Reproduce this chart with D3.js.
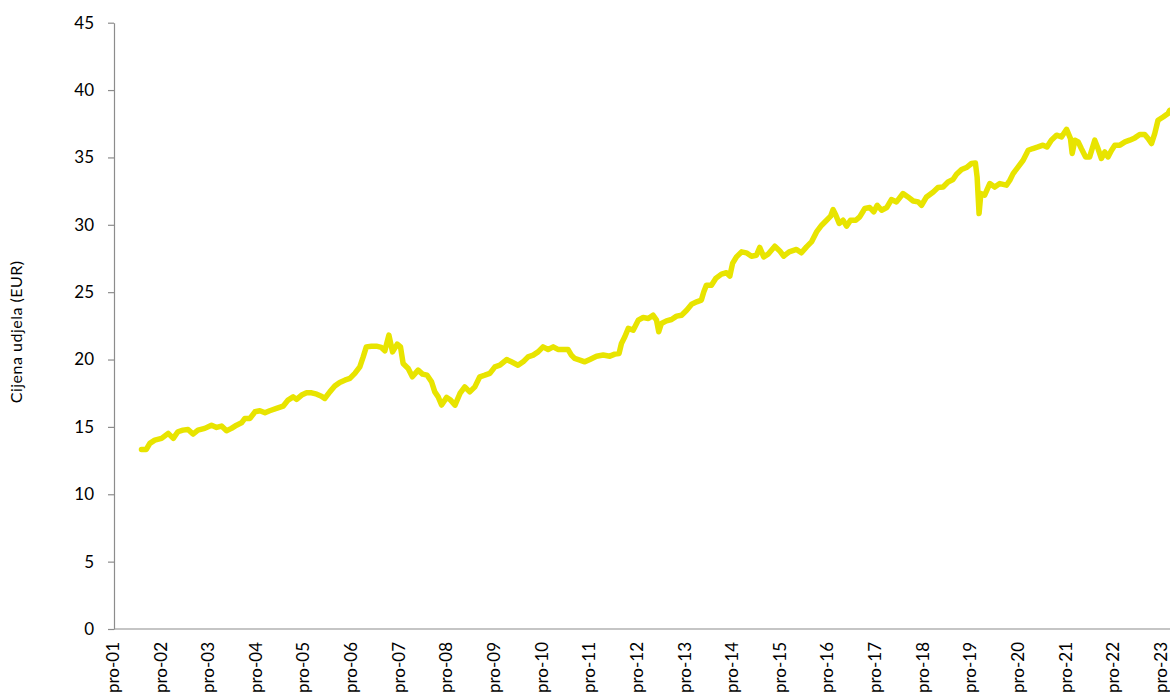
<!DOCTYPE html>
<html>
<head>
<meta charset="utf-8">
<script src="https://cdn.jsdelivr.net/npm/d3@7"></script>
<style>
  html, body { margin: 0; padding: 0; background: #fff; }
  svg { display: block; }
  text { font-family: Lato, "Liberation Sans", sans-serif; fill: #000; }
</style>
</head>
<body>
<svg id="chart" width="1170" height="696"></svg>
<script>
// ---- data ----
const yAxisTitle = "Cijena udjela (EUR)";
const yTicks = [0, 5, 10, 15, 20, 25, 30, 35, 40, 45];
const tickYears = d3.range(2001, 2024); // "pro-01" .. "pro-23" (prosinac = December)
const tickLabelPrefix = "pro-";

const dates = [
"2002-06-22","2002-07-29","2002-08-25","2002-10-02","2002-11-23","2003-01-13","2003-02-21","2003-03-28",
"2003-05-06","2003-06-14","2003-07-22","2003-08-29","2003-10-20","2003-12-11","2004-01-19","2004-02-26",
"2004-04-04","2004-05-12","2004-06-20","2004-07-28","2004-08-23","2004-10-01","2004-11-08","2004-12-16",
"2005-01-24","2005-03-01","2005-04-22","2005-06-12","2005-07-20","2005-08-28","2005-09-23","2005-11-01",
"2005-12-09","2006-01-17","2006-02-25","2006-04-02","2006-04-27","2006-06-05","2006-07-13","2006-08-20",
"2006-09-28","2006-11-06","2006-12-14","2007-01-21","2007-02-16","2007-03-12","2007-04-20","2007-05-28",
"2007-07-05","2007-08-01","2007-09-01","2007-09-29","2007-11-04","2007-11-29","2007-12-19","2008-01-27",
"2008-02-28","2008-04-12","2008-05-16","2008-06-20","2008-07-24","2008-08-18","2008-09-13","2008-10-09",
"2008-11-17","2008-12-17","2009-01-20","2009-02-27","2009-04-05","2009-05-13","2009-06-21","2009-07-29",
"2009-09-06","2009-10-14","2009-11-22","2009-12-30","2010-02-20","2010-03-28","2010-05-18","2010-06-26",
"2010-08-03","2010-09-11","2010-10-19","2010-11-26","2011-01-04","2011-02-12","2011-03-20","2011-04-28",
"2011-06-05","2011-07-01","2011-07-26","2011-09-04","2011-10-12","2011-11-20","2012-01-10","2012-03-01",
"2012-04-21","2012-05-29","2012-07-01","2012-07-19","2012-08-14","2012-09-09","2012-10-17","2012-11-25",
"2013-01-02","2013-02-10","2013-03-18","2013-04-14","2013-05-01","2013-05-21","2013-06-29","2013-08-07",
"2013-09-15","2013-10-23","2013-12-01","2014-01-08","2014-02-16","2014-03-24","2014-04-11","2014-05-01",
"2014-06-09","2014-07-12","2014-08-25","2014-10-02","2014-10-28","2014-11-18","2014-12-18","2015-01-26",
"2015-03-04","2015-04-12","2015-05-20","2015-06-14","2015-07-15","2015-08-17","2015-10-08","2015-11-15",
"2015-12-15","2016-01-26","2016-03-22","2016-04-29","2016-06-07","2016-07-15","2016-08-23","2016-10-01",
"2016-11-08","2016-12-09","2016-12-28","2017-01-18","2017-02-13","2017-03-14","2017-04-10","2017-05-10",
"2017-06-20","2017-07-20","2017-08-28","2017-10-05","2017-11-05","2017-12-01","2018-01-04","2018-02-12",
"2018-03-20","2018-04-28","2018-06-17","2018-07-25","2018-09-03","2018-10-11","2018-11-06","2018-12-14",
"2019-02-04","2019-03-12","2019-04-20","2019-05-28","2019-07-05","2019-08-01","2019-09-09","2019-10-16",
"2019-11-24","2019-12-24","2020-01-06","2020-01-21","2020-02-04","2020-03-04","2020-04-12","2020-05-20",
"2020-06-28","2020-08-18","2020-09-13","2020-10-08","2020-11-16","2020-12-24","2021-02-01","2021-03-09",
"2021-04-17","2021-05-25","2021-06-25","2021-07-28","2021-09-06","2021-10-14","2021-11-22","2021-12-22",
"2022-01-04","2022-01-25","2022-02-19","2022-03-15","2022-04-17","2022-05-18","2022-06-26","2022-07-21",
"2022-08-16","2022-09-11","2022-10-06","2022-11-02","2022-11-27","2023-01-05","2023-02-13","2023-03-21",
"2023-04-29","2023-06-06","2023-07-14","2023-08-09","2023-09-04","2023-09-29","2023-10-24","2023-12-02",
"2024-01-09","2024-01-22"
];

const prices = [
13.33,13.33,13.78,14.02,14.15,14.52,14.15,14.64,
14.76,14.81,14.47,14.76,14.89,15.13,14.96,15.06,
14.71,14.89,15.13,15.30,15.63,15.63,16.12,16.20,
16.05,16.20,16.37,16.54,16.99,17.23,17.04,17.36,
17.53,17.53,17.43,17.28,17.11,17.60,18.03,18.30,
18.47,18.60,18.97,19.46,20.20,20.94,20.99,20.99,
20.90,20.65,21.81,20.57,21.14,20.94,19.71,19.34,
18.72,19.21,18.92,18.84,18.35,17.60,17.23,16.62,
17.19,16.99,16.62,17.48,17.97,17.60,17.97,18.72,
18.84,18.97,19.46,19.58,20.00,19.83,19.58,19.83,
20.20,20.33,20.57,20.94,20.75,20.94,20.75,20.75,
20.75,20.33,20.08,19.96,19.83,20.01,20.25,20.33,
20.25,20.40,20.45,21.19,21.69,22.31,22.18,22.92,
23.12,23.05,23.29,22.92,22.06,22.68,22.87,22.97,
23.22,23.29,23.66,24.11,24.28,24.41,25.02,25.52,
25.52,26.02,26.34,26.44,26.19,27.13,27.62,27.99,
27.92,27.67,27.74,28.32,27.62,27.82,28.41,28.06,
27.67,27.99,28.17,27.92,28.36,28.73,29.47,29.97,
30.34,30.64,31.13,30.71,30.10,30.34,29.90,30.34,
30.34,30.59,31.21,31.28,30.96,31.45,31.08,31.28,
31.87,31.70,32.32,32.07,31.77,31.70,31.45,32.07,
32.44,32.77,32.81,33.18,33.36,33.75,34.10,34.25,
34.55,34.59,33.55,30.84,32.32,32.20,33.06,32.80,
33.06,32.94,33.31,33.80,34.30,34.79,35.53,35.66,
35.78,35.91,35.78,36.28,36.65,36.52,37.09,36.40,
35.29,36.28,36.15,35.66,35.04,35.04,36.28,35.66,
34.92,35.41,35.04,35.53,35.91,35.91,36.15,36.28,
36.45,36.70,36.70,36.40,36.03,36.77,37.76,38.00,
38.26,38.50
];

// ---- chart ----
const W = 1170, H = 696;
const margin = { left: 114, right: 0, top: 22.7, bottom: 67 };
const parse = d3.timeParse("%Y-%m-%d");
const data = dates.map((d, i) => ({ date: parse(d), value: prices[i] }));

const svg = d3.select("#chart");

const x = d3.scaleTime()
  .domain([new Date(2001, 11, 1), new Date(2024, 0, 24)])
  .range([115, W]);

const y = d3.scaleLinear()
  .domain([0, 45])
  .range([H - margin.bottom, margin.top]);

// Y axis
const yAxis = svg.append("g")
  .attr("transform", `translate(${margin.left},0)`)
  .call(d3.axisLeft(y).tickValues(yTicks).tickSize(6).tickPadding(14).tickSizeOuter(0));
yAxis.select(".domain").attr("stroke", "#8c8c8c").attr("stroke-width", 1.2);
yAxis.selectAll(".tick line").attr("stroke", "#8c8c8c").attr("stroke-width", 1.2);
yAxis.selectAll(".tick text").style("font-size", "17px").attr("fill", "#000");

// X axis
const xTickDates = tickYears.map(yr => new Date(yr, 11, 1));
const xAxis = svg.append("g")
  .attr("transform", `translate(0,${y(0)})`)
  .call(d3.axisBottom(x)
    .tickValues(xTickDates)
    .tickSize(0)
    .tickSizeOuter(0)
    .tickFormat(d => tickLabelPrefix + d3.timeFormat("%y")(d)));
xAxis.select(".domain").attr("stroke", "#8c8c8c").attr("stroke-width", 1.2)
  .attr("d", `M${margin.left},0H${W}`);
xAxis.selectAll(".tick text")
  .style("font-size", "17px")
  .attr("fill", "#000")
  .attr("text-anchor", "end")
  .attr("transform", "rotate(-90)")
  .attr("x", -13)
  .attr("y", 0)
  .attr("dy", "0.2em");

// Y axis title
svg.append("text")
  .attr("transform", `translate(22,${(y(45) + y(0)) / 2 + 6}) rotate(-90)`)
  .attr("text-anchor", "middle")
  .style("font-size", "16px")
  .style("letter-spacing", "0.5px")
  .text(yAxisTitle);

// Line
const line = d3.line()
  .x(d => x(d.date))
  .y(d => y(d.value))
  .curve(d3.curveLinear);

svg.append("path")
  .datum(data)
  .attr("fill", "none")
  .attr("stroke", "#e8e400")
  .attr("stroke-width", 5.5)
  .attr("stroke-linejoin", "round")
  .attr("stroke-linecap", "round")
  .attr("d", line);
</script>
</body>
</html>
